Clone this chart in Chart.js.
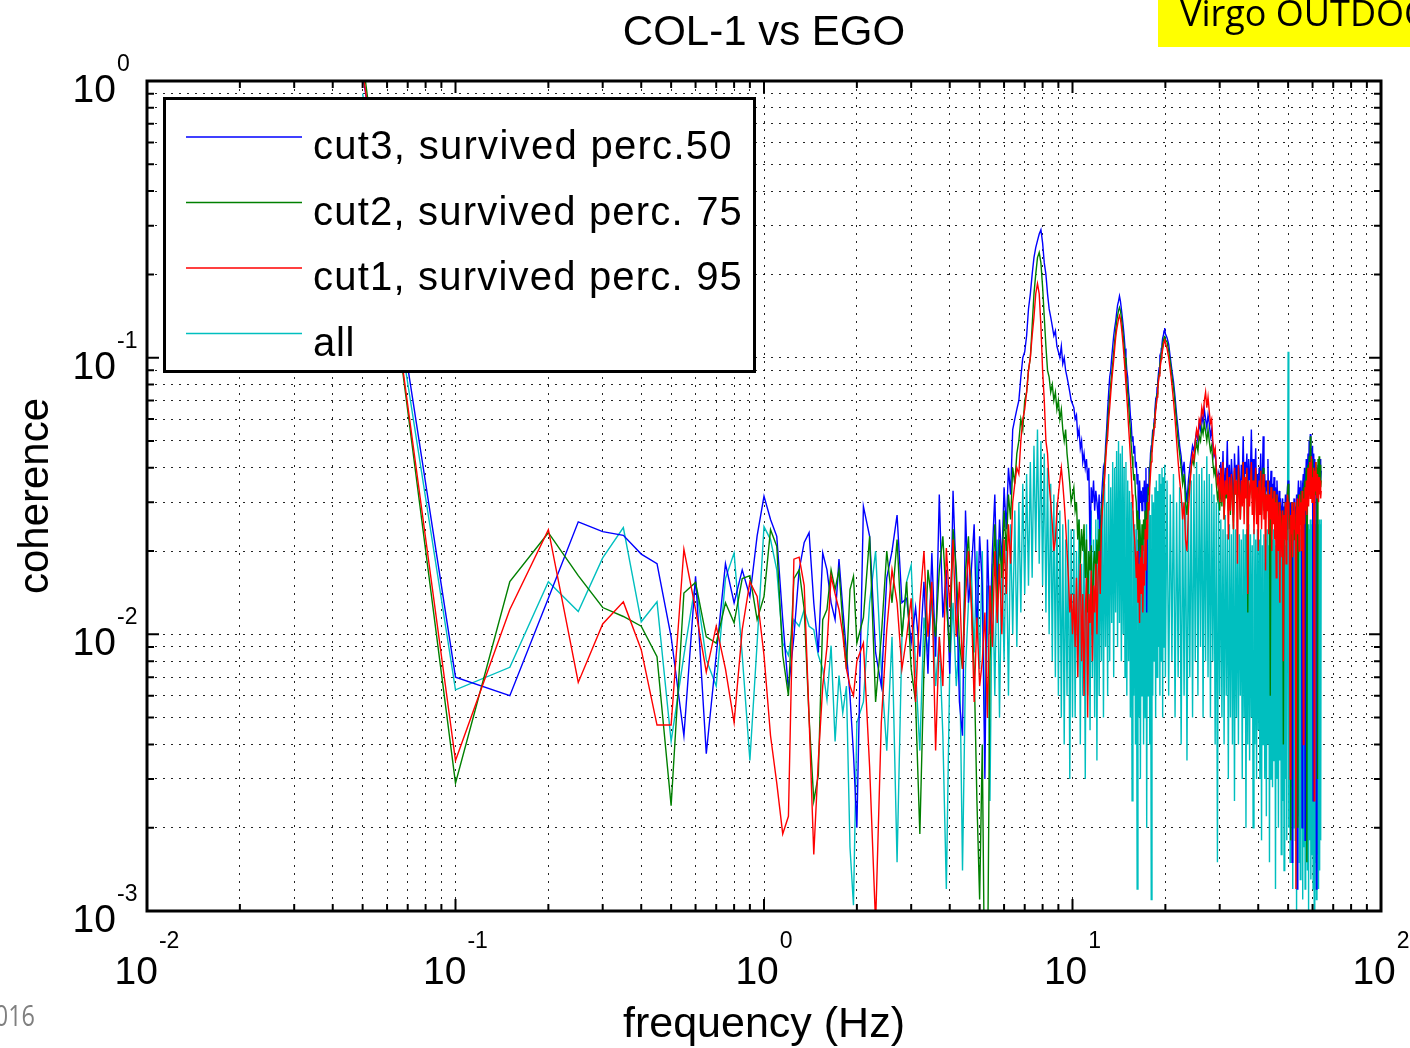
<!DOCTYPE html>
<html>
<head>
<meta charset="utf-8">
<script src="https://cdn.jsdelivr.net/npm/chart.js@4"></script>
<style>
  html, body { margin: 0; padding: 0; background: #fff; }
  #wrap { position: relative; width: 1410px; height: 1048px; overflow: hidden; }
</style>
</head>
<body>
<div id="wrap"><canvas id="coherenceChart" width="1410" height="1048"></canvas></div>
<script>
// Frequency grid (Hz)
const freqHz = [
  // 0.05 .. 2.0
  0.05, 0.1, 0.15, 0.2, 0.25, 0.3, 0.35, 0.4, 0.45, 0.5,
  0.55, 0.6, 0.65, 0.7, 0.75, 0.8, 0.85, 0.9, 0.95, 1.0,
  1.05, 1.1, 1.15, 1.2, 1.25, 1.3, 1.35, 1.4, 1.45, 1.5,
  1.55, 1.6, 1.65, 1.7, 1.75, 1.8, 1.85, 1.9, 1.95, 2.0,
  // 2.1 .. 10
  2.1, 2.2, 2.3, 2.4, 2.5, 2.6, 2.7, 2.8, 2.9, 3.0,
  3.1, 3.2, 3.3, 3.4, 3.5, 3.6, 3.7, 3.8, 3.9, 4.0,
  4.1, 4.2, 4.3, 4.4, 4.5, 4.6, 4.7, 4.8, 4.9, 5.0,
  5.1, 5.2, 5.3, 5.4, 5.5, 5.6, 5.7, 5.8, 5.9, 6.0,
  6.1, 6.2, 6.3, 6.4, 6.5, 6.6, 6.7, 6.8, 6.9, 7.0,
  7.1, 7.2, 7.3, 7.4, 7.5, 7.6, 7.7, 7.8, 7.9, 8.0,
  8.1, 8.2, 8.3, 8.4, 8.5, 8.6, 8.7, 8.8, 8.9, 9.0,
  9.1, 9.2, 9.3, 9.4, 9.5, 9.6, 9.7, 9.8, 9.9, 10.0,
  // 10.1 .. 20
  10.1, 10.2, 10.3, 10.4, 10.5, 10.6, 10.7, 10.8, 10.9, 11.0,
  11.1, 11.2, 11.3, 11.4, 11.5, 11.6, 11.7, 11.8, 11.9, 12.0,
  12.1, 12.2, 12.3, 12.4, 12.5, 12.6, 12.7, 12.8, 12.9, 13.0,
  13.1, 13.2, 13.3, 13.4, 13.5, 13.6, 13.7, 13.8, 13.9, 14.0,
  14.1, 14.2, 14.3, 14.4, 14.5, 14.6, 14.7, 14.8, 14.9, 15.0,
  15.1, 15.2, 15.3, 15.4, 15.5, 15.6, 15.7, 15.8, 15.9, 16.0,
  16.1, 16.2, 16.3, 16.4, 16.5, 16.6, 16.7, 16.8, 16.9, 17.0,
  17.1, 17.2, 17.3, 17.4, 17.5, 17.6, 17.7, 17.8, 17.9, 18.0,
  18.1, 18.2, 18.3, 18.4, 18.5, 18.6, 18.7, 18.8, 18.9, 19.0,
  19.1, 19.2, 19.3, 19.4, 19.5, 19.6, 19.7, 19.8, 19.9, 20.0,
  // 20.25 .. 64
  20.25, 20.5, 20.75, 21, 21.25, 21.5, 21.75, 22, 22.25, 22.5,
  22.75, 23, 23.25, 23.5, 23.75, 24, 24.25, 24.5, 24.75, 25,
  25.25, 25.5, 25.75, 26, 26.25, 26.5, 26.75, 27, 27.25, 27.5,
  27.75, 28, 28.25, 28.5, 28.75, 29, 29.25, 29.5, 29.75, 30,
  30.25, 30.5, 30.75, 31, 31.25, 31.5, 31.75, 32, 32.25, 32.5,
  32.75, 33, 33.25, 33.5, 33.75, 34, 34.25, 34.5, 34.75, 35,
  35.25, 35.5, 35.75, 36, 36.25, 36.5, 36.75, 37, 37.25, 37.5,
  37.75, 38, 38.25, 38.5, 38.75, 39, 39.25, 39.5, 39.75, 40,
  40.25, 40.5, 40.75, 41, 41.25, 41.5, 41.75, 42, 42.25, 42.5,
  42.75, 43, 43.25, 43.5, 43.75, 44, 44.25, 44.5, 44.75, 45,
  45.25, 45.5, 45.75, 46, 46.25, 46.5, 46.75, 47, 47.25, 47.5,
  47.75, 48, 48.25, 48.5, 48.75, 49, 49.25, 49.5, 49.75, 50,
  50.25, 50.5, 50.75, 51, 51.25, 51.5, 51.75, 52, 52.25, 52.5,
  52.75, 53, 53.25, 53.5, 53.75, 54, 54.25, 54.5, 54.75, 55,
  55.25, 55.5, 55.75, 56, 56.25, 56.5, 56.75, 57, 57.25, 57.5,
  57.75, 58, 58.25, 58.5, 58.75, 59, 59.25, 59.5, 59.75, 60,
  60.25, 60.5, 60.75, 61, 61.25, 61.5, 61.75, 62, 62.25, 62.5,
  62.75, 63, 63.25, 63.5, 63.75, 64
];

// cut3, survived perc.50
const cut3Values = [
  1.06, 0.0070, 0.0060, 0.0135, 0.0255, 0.0235, 0.0228, 0.0195, 0.018, 0.0098,
  0.0043, 0.0162, 0.0037, 0.0084, 0.018, 0.013, 0.0171, 0.0137, 0.0227, 0.0316,
  0.026, 0.0226, 0.0113, 0.0063, 0.0098, 0.0171, 0.0215, 0.0233, 0.013, 0.0086,
  0.0197, 0.0171, 0.013, 0.0113, 0.0187, 0.0125, 0.0086, 0.006, 0.0037, 0.002,
  0.029, 0.0226, 0.0086, 0.0065, 0.016, 0.02, 0.027, 0.013, 0.0135, 0.0093,
  0.0125, 0.0083, 0.0155, 0.0072, 0.0197, 0.0083, 0.032, 0.0115, 0.0171, 0.0072,
  0.033, 0.0155, 0.0057, 0.0043, 0.028, 0.013, 0.0171, 0.025, 0.0098, 0.0226,
  0.015, 0.003, 0.022, 0.01, 0.02, 0.032, 0.014, 0.026, 0.018, 0.034,
  0.024, 0.04, 0.032, 0.055, 0.06, 0.065, 0.07, 0.085, 0.1, 0.105,
  0.12, 0.15, 0.17, 0.2, 0.23, 0.25, 0.265, 0.28, 0.29, 0.26,
  0.22, 0.2, 0.17, 0.15, 0.14, 0.13, 0.12, 0.125, 0.11, 0.105,
  0.1, 0.11, 0.095, 0.1, 0.09, 0.085, 0.08, 0.075, 0.07, 0.068,
  0.066, 0.06, 0.062, 0.052, 0.055, 0.047, 0.05, 0.042, 0.045, 0.04,
  0.043, 0.036, 0.04, 0.02, 0.034, 0.03, 0.036, 0.028, 0.033, 0.03,
  0.026, 0.032, 0.018, 0.03, 0.035, 0.04, 0.038, 0.048, 0.055, 0.065,
  0.075, 0.085, 0.09, 0.1, 0.11, 0.12, 0.128, 0.135, 0.145, 0.155,
  0.16, 0.167, 0.16, 0.15, 0.14, 0.13, 0.12, 0.108, 0.1, 0.09,
  0.085, 0.075, 0.07, 0.062, 0.058, 0.05, 0.052, 0.045, 0.048, 0.04,
  0.042, 0.035, 0.038, 0.015, 0.036, 0.03, 0.033, 0.028, 0.034, 0.03,
  0.036, 0.026, 0.04, 0.012, 0.035, 0.032, 0.04, 0.038, 0.045, 0.048,
  0.05, 0.055, 0.052, 0.06, 0.065, 0.07, 0.068, 0.078, 0.082, 0.088,
  0.092, 0.1, 0.098, 0.108, 0.112, 0.118, 0.12, 0.125, 0.128, 0.122,
  0.118, 0.112, 0.1, 0.09, 0.082, 0.072, 0.062, 0.055, 0.048, 0.044,
  0.038, 0.042, 0.034, 0.03, 0.036, 0.04, 0.044, 0.048, 0.046, 0.05,
  0.054, 0.05, 0.058, 0.055, 0.062, 0.058, 0.065, 0.06, 0.056, 0.062,
  0.058, 0.052, 0.055, 0.048, 0.044, 0.046, 0.04, 0.036, 0.038, 0.032,
  0.042, 0.033, 0.046, 0.03, 0.04, 0.035, 0.05, 0.032, 0.041, 0.031,
  0.043, 0.036, 0.027, 0.045, 0.036, 0.041, 0.033, 0.048, 0.037, 0.031,
  0.041, 0.036, 0.052, 0.033, 0.042, 0.038, 0.045, 0.03, 0.043, 0.036,
  0.039, 0.055, 0.035, 0.043, 0.032, 0.037, 0.047, 0.031, 0.038, 0.029,
  0.04, 0.033, 0.045, 0.031, 0.036, 0.052, 0.032, 0.038, 0.03, 0.036,
  0.033, 0.043, 0.029, 0.036, 0.032, 0.039, 0.026, 0.035, 0.031, 0.037,
  0.029, 0.034, 0.025, 0.036, 0.03, 0.026, 0.033, 0.024, 0.031, 0.028,
  0.025, 0.031, 0.023, 0.029, 0.027, 0.032, 0.024, 0.03, 0.034, 0.036,
  0.032, 0.027, 0.03, 0.024, 0.029, 0.0015, 0.028, 0.025, 0.031, 0.023,
  0.029, 0.025, 0.032, 0.0012, 0.031, 0.036, 0.029, 0.034, 0.027, 0.036,
  0.031, 0.002, 0.035, 0.038, 0.032, 0.04, 0.0018, 0.036, 0.043, 0.034,
  0.039, 0.045, 0.036, 0.05, 0.043, 0.053, 0.039, 0.047, 0.043, 0.048,
  0.0025, 0.045, 0.038, 0.043, 0.036, 0.04, 0.0012, 0.038, 0.036, 0.041,
  0.033, 0.039, 0.037, 0.043, 0.036, 0.039
];

// cut2, survived perc. 75
const cut2Values = [
  1.2, 0.0029, 0.0155, 0.0233, 0.0163, 0.0125, 0.0116, 0.0107, 0.0083, 0.0024,
  0.0141, 0.0154, 0.0098, 0.0093, 0.013, 0.011, 0.0159, 0.0163, 0.0113, 0.0137,
  0.0239, 0.0208, 0.0084, 0.006, 0.0159, 0.0171, 0.0123, 0.005, 0.0025, 0.0031,
  0.0113, 0.0123, 0.0171, 0.0145, 0.0171, 0.011, 0.0075, 0.0145, 0.0162, 0.0093,
  0.0115, 0.0226, 0.0057, 0.0098, 0.02, 0.013, 0.022, 0.0098, 0.0155, 0.0075,
  0.0057, 0.0019, 0.0075, 0.0171, 0.013, 0.0098, 0.0171, 0.0226, 0.013, 0.0086,
  0.024, 0.0171, 0.0093, 0.0075, 0.0171, 0.0226, 0.013, 0.0075, 0.0025, 0.0011,
  0.004, 0.0004, 0.0005, 0.008, 0.015, 0.025, 0.012, 0.022, 0.016, 0.028,
  0.02, 0.032, 0.026, 0.04, 0.035, 0.045, 0.05, 0.06, 0.055, 0.07,
  0.075, 0.09, 0.1, 0.13, 0.17, 0.2, 0.23, 0.24, 0.22, 0.18,
  0.14, 0.11, 0.09, 0.085, 0.075, 0.08, 0.07, 0.075, 0.065, 0.07,
  0.06, 0.065, 0.055, 0.05, 0.055, 0.045, 0.04, 0.035, 0.03, 0.032,
  0.034, 0.028, 0.03, 0.022, 0.026, 0.018, 0.024, 0.02, 0.025, 0.016,
  0.022, 0.012, 0.02, 0.017, 0.021, 0.01, 0.018, 0.02, 0.015, 0.022,
  0.018, 0.024, 0.02, 0.028, 0.03, 0.034, 0.04, 0.045, 0.05, 0.058,
  0.065, 0.072, 0.08, 0.088, 0.095, 0.105, 0.115, 0.125, 0.135, 0.142,
  0.148, 0.152, 0.148, 0.14, 0.13, 0.12, 0.11, 0.1, 0.09, 0.082,
  0.075, 0.068, 0.06, 0.055, 0.048, 0.044, 0.04, 0.036, 0.038, 0.032,
  0.03, 0.024, 0.028, 0.02, 0.026, 0.022, 0.018, 0.025, 0.02, 0.026,
  0.022, 0.028, 0.018, 0.03, 0.026, 0.034, 0.032, 0.038, 0.042, 0.046,
  0.048, 0.052, 0.055, 0.058, 0.062, 0.066, 0.07, 0.074, 0.078, 0.084,
  0.088, 0.094, 0.098, 0.104, 0.108, 0.112, 0.115, 0.118, 0.12, 0.116,
  0.114, 0.106, 0.096, 0.086, 0.078, 0.068, 0.058, 0.05, 0.045, 0.04,
  0.035, 0.038, 0.03, 0.027, 0.033, 0.036, 0.04, 0.043, 0.041, 0.046,
  0.049, 0.046, 0.052, 0.05, 0.056, 0.053, 0.058, 0.054, 0.05, 0.055,
  0.05, 0.046, 0.048, 0.042, 0.038, 0.04, 0.035, 0.031, 0.033, 0.028,
  0.036, 0.029, 0.04, 0.026, 0.034, 0.031, 0.038, 0.028, 0.035, 0.027,
  0.037, 0.031, 0.024, 0.039, 0.032, 0.035, 0.03, 0.04, 0.033, 0.026,
  0.035, 0.032, 0.042, 0.03, 0.036, 0.033, 0.039, 0.012, 0.036, 0.032,
  0.034, 0.04, 0.031, 0.036, 0.028, 0.033, 0.039, 0.027, 0.034, 0.026,
  0.035, 0.03, 0.039, 0.027, 0.032, 0.04, 0.028, 0.034, 0.026, 0.032,
  0.03, 0.036, 0.026, 0.032, 0.006, 0.034, 0.024, 0.031, 0.027, 0.033,
  0.026, 0.031, 0.023, 0.032, 0.027, 0.024, 0.03, 0.021, 0.028, 0.025,
  0.024, 0.028, 0.004, 0.027, 0.025, 0.03, 0.022, 0.028, 0.032, 0.035,
  0.028, 0.024, 0.027, 0.0018, 0.026, 0.03, 0.025, 0.028, 0.022, 0.027,
  0.026, 0.024, 0.03, 0.027, 0.002, 0.032, 0.026, 0.031, 0.025, 0.033,
  0.028, 0.032, 0.026, 0.034, 0.03, 0.036, 0.031, 0.035, 0.04, 0.0015,
  0.035, 0.041, 0.033, 0.044, 0.037, 0.052, 0.035, 0.042, 0.038, 0.043,
  0.033, 0.04, 0.035, 0.038, 0.032, 0.042, 0.035, 0.04, 0.003, 0.043,
  0.035, 0.044, 0.037, 0.041, 0.034, 0.036
];

// cut1, survived perc. 95
const cut1Values = [
  1.1, 0.0035, 0.0123, 0.0239, 0.0067, 0.0109, 0.0131, 0.0088, 0.0047, 0.0047,
  0.0203, 0.0123, 0.0073, 0.0107, 0.0075, 0.0048, 0.0104, 0.0155, 0.0137, 0.0084,
  0.0043, 0.0029, 0.0019, 0.0022, 0.0187, 0.019, 0.015, 0.005, 0.0016, 0.0035,
  0.0065, 0.009, 0.0162, 0.014, 0.0123, 0.01, 0.0075, 0.0065, 0.006, 0.008,
  0.0093, 0.0033, 0.0009, 0.0048, 0.0104, 0.0171, 0.013, 0.0075, 0.0098, 0.0135,
  0.0057, 0.013, 0.02, 0.0098, 0.0155, 0.0038, 0.0098, 0.0065, 0.0205, 0.0125,
  0.022, 0.0098, 0.0155, 0.0075, 0.0135, 0.02, 0.013, 0.0057, 0.0115, 0.0065,
  0.008, 0.012, 0.005, 0.015, 0.009, 0.02, 0.011, 0.018, 0.01, 0.022,
  0.014, 0.025, 0.018, 0.03, 0.035, 0.04, 0.038, 0.05, 0.06, 0.065,
  0.075, 0.09, 0.1, 0.12, 0.14, 0.17, 0.185, 0.17, 0.13, 0.09,
  0.07, 0.05, 0.045, 0.035, 0.03, 0.025, 0.02, 0.022, 0.028, 0.032,
  0.036, 0.04, 0.035, 0.03, 0.025, 0.02, 0.016, 0.012, 0.014, 0.01,
  0.014, 0.009, 0.016, 0.007, 0.013, 0.018, 0.008, 0.014, 0.006, 0.012,
  0.016, 0.005, 0.014, 0.011, 0.017, 0.008, 0.015, 0.012, 0.018, 0.01,
  0.016, 0.02, 0.014, 0.024, 0.028, 0.032, 0.036, 0.042, 0.048, 0.052,
  0.06, 0.066, 0.074, 0.082, 0.09, 0.098, 0.108, 0.118, 0.126, 0.132,
  0.138, 0.142, 0.138, 0.13, 0.12, 0.11, 0.1, 0.09, 0.08, 0.072,
  0.064, 0.056, 0.05, 0.044, 0.038, 0.032, 0.028, 0.024, 0.022, 0.019,
  0.016, 0.02, 0.013, 0.018, 0.011, 0.019, 0.014, 0.021, 0.012, 0.018,
  0.015, 0.024, 0.017, 0.026, 0.022, 0.03, 0.028, 0.034, 0.038, 0.042,
  0.045, 0.049, 0.052, 0.056, 0.06, 0.064, 0.068, 0.072, 0.077, 0.082,
  0.086, 0.09, 0.095, 0.099, 0.103, 0.107, 0.11, 0.114, 0.117, 0.113,
  0.108, 0.1, 0.09, 0.08, 0.07, 0.06, 0.05, 0.042, 0.036, 0.032,
  0.026, 0.03, 0.022, 0.02, 0.028, 0.034, 0.04, 0.045, 0.043, 0.05,
  0.055, 0.052, 0.06, 0.058, 0.066, 0.062, 0.07, 0.075, 0.066, 0.072,
  0.064, 0.058, 0.06, 0.05, 0.045, 0.047, 0.04, 0.035, 0.037, 0.03,
  0.04, 0.03, 0.042, 0.026, 0.036, 0.032, 0.04, 0.022, 0.037, 0.028,
  0.038, 0.03, 0.024, 0.04, 0.032, 0.036, 0.018, 0.041, 0.033, 0.026,
  0.036, 0.029, 0.042, 0.025, 0.037, 0.031, 0.04, 0.014, 0.036, 0.029,
  0.034, 0.042, 0.027, 0.036, 0.023, 0.033, 0.04, 0.025, 0.034, 0.02,
  0.036, 0.027, 0.039, 0.024, 0.032, 0.038, 0.026, 0.034, 0.017, 0.032,
  0.028, 0.036, 0.023, 0.032, 0.026, 0.034, 0.02, 0.031, 0.025, 0.033,
  0.022, 0.03, 0.016, 0.032, 0.025, 0.02, 0.03, 0.013, 0.028, 0.023,
  0.019, 0.028, 0.008, 0.027, 0.022, 0.03, 0.018, 0.028, 0.032, 0.03,
  0.026, 0.021, 0.003, 0.027, 0.023, 0.03, 0.019, 0.028, 0.024, 0.03,
  0.022, 0.0012, 0.027, 0.031, 0.023, 0.029, 0.02, 0.032, 0.025, 0.03,
  0.02, 0.033, 0.026, 0.004, 0.031, 0.025, 0.034, 0.028, 0.036, 0.027,
  0.033, 0.04, 0.029, 0.036, 0.042, 0.031, 0.038, 0.044, 0.03, 0.037,
  0.034, 0.04, 0.0025, 0.039, 0.033, 0.042, 0.035, 0.031, 0.038, 0.034,
  0.03, 0.037, 0.032, 0.036, 0.031, 0.033
];

// all
const allValues = [
  0.9, 0.0063, 0.0076, 0.0155, 0.0121, 0.0189, 0.0243, 0.0111, 0.0131, 0.0041,
  0.0084, 0.0154, 0.0081, 0.0065, 0.0159, 0.0197, 0.0084, 0.0035, 0.0093, 0.0245,
  0.022, 0.0171, 0.0093, 0.0084, 0.0113, 0.0107, 0.0123, 0.0107, 0.0104, 0.0084,
  0.0075, 0.0058, 0.0091, 0.0041, 0.0071, 0.0052, 0.0065, 0.0017, 0.00105, 0.0048,
  0.0057, 0.013, 0.02, 0.0075, 0.0038, 0.0098, 0.0015, 0.0098, 0.0155, 0.0178,
  0.0075, 0.0038, 0.0115, 0.0086, 0.0135, 0.0065, 0.0098, 0.0043, 0.0012, 0.0075,
  0.013, 0.0065, 0.0098, 0.0014, 0.0075, 0.013, 0.0171, 0.0086, 0.02, 0.0075,
  0.02, 0.004, 0.015, 0.0025, 0.018, 0.006, 0.022, 0.005, 0.02, 0.008,
  0.022, 0.006, 0.025, 0.01, 0.028, 0.009, 0.03, 0.012, 0.035, 0.014,
  0.038, 0.015, 0.042, 0.016, 0.048, 0.02, 0.055, 0.018, 0.05, 0.015,
  0.045, 0.012, 0.04, 0.01, 0.035, 0.008, 0.032, 0.007, 0.03, 0.006,
  0.028, 0.005, 0.025, 0.004, 0.022, 0.006, 0.026, 0.003, 0.024, 0.005,
  0.024, 0.005, 0.02, 0.007, 0.026, 0.004, 0.018, 0.006, 0.022, 0.003,
  0.025, 0.006, 0.02, 0.0045, 0.028, 0.007, 0.022, 0.005, 0.026, 0.0035,
  0.03, 0.006, 0.027, 0.008, 0.032, 0.005, 0.035, 0.009, 0.03, 0.006,
  0.038, 0.008, 0.034, 0.011, 0.042, 0.007, 0.04, 0.012, 0.046, 0.009,
  0.05, 0.011, 0.045, 0.008, 0.048, 0.01, 0.04, 0.007, 0.042, 0.006,
  0.036, 0.008, 0.033, 0.005, 0.03, 0.0025, 0.028, 0.006, 0.025, 0.004,
  0.024, 0.0012, 0.022, 0.005, 0.026, 0.003, 0.02, 0.006, 0.024, 0.004,
  0.026, 0.005, 0.028, 0.002, 0.025, 0.006, 0.03, 0.004, 0.027, 0.0011,
  0.032, 0.006, 0.03, 0.008, 0.034, 0.005, 0.036, 0.007, 0.033, 0.009,
  0.038, 0.006, 0.035, 0.008, 0.04, 0.005, 0.037, 0.009, 0.041, 0.007,
  0.036, 0.006, 0.032, 0.008, 0.038, 0.005, 0.03, 0.007, 0.034, 0.004,
  0.03, 0.006, 0.033, 0.0035, 0.028, 0.007, 0.036, 0.005, 0.038, 0.008,
  0.042, 0.006, 0.038, 0.009, 0.04, 0.005, 0.036, 0.008, 0.044, 0.007,
  0.038, 0.005, 0.035, 0.008, 0.032, 0.004, 0.03, 0.0015, 0.033, 0.006,
  0.026, 0.005, 0.024, 0.004, 0.027, 0.006, 0.023, 0.003, 0.025, 0.005,
  0.023, 0.004, 0.025, 0.0025, 0.024, 0.005, 0.026, 0.004, 0.023, 0.006,
  0.022, 0.003, 0.024, 0.005, 0.023, 0.002, 0.024, 0.004, 0.025, 0.0035,
  0.023, 0.005, 0.021, 0.002, 0.024, 0.004, 0.022, 0.003, 0.024, 0.0045,
  0.022, 0.003, 0.024, 0.0018, 0.021, 0.004, 0.023, 0.003, 0.022, 0.0022,
  0.024, 0.004, 0.021, 0.0015, 0.023, 0.003, 0.022, 0.0028, 0.024, 0.0035,
  0.022, 0.0012, 0.021, 0.003, 0.023, 0.002, 0.021, 0.0035, 0.022, 0.0016,
  0.021, 0.0025, 0.023, 0.0014, 0.022, 0.003, 0.021, 0.0018, 0.023, 0.105,
  0.002, 0.022, 0.0015, 0.021, 0.0028, 0.023, 0.0012, 0.022, 0.002, 0.024,
  0.0018, 0.022, 0.001, 0.023, 0.0022, 0.024, 0.0015, 0.022, 0.0013, 0.024,
  0.002, 0.023, 0.0011, 0.024, 0.0017, 0.024, 0.0012, 0.023, 0.002, 0.025,
  0.0014, 0.025, 0.001, 0.024, 0.0018, 0.026, 0.0013, 0.025, 0.0016, 0.026,
  0.0012, 0.025, 0.0009, 0.026, 0.0015, 0.025, 0.0011, 0.026, 0.0016, 0.025,
  0.0012, 0.026, 0.0014, 0.025, 0.0018, 0.026
];

// Axis decades and their exponent labels
const xDecades = [0.01, 0.1, 1, 10, 100];
const xExponents = ['-2', '-1', '0', '1', '2'];
const yDecades = [0.001, 0.01, 0.1, 1];
const yExponents = ['-3', '-2', '-1', '0'];
const minorSteps = [1, 2, 3, 4, 5, 6, 7, 8, 9];

const legendLabels = ['cut3, survived perc.50', 'cut2, survived perc. 75', 'cut1, survived perc. 95', 'all'];
const seriesColors = ['#0000ff', '#008000', '#ff0000', '#00bfbf'];
const seriesValues = [cut3Values, cut2Values, cut1Values, allValues];
// stacking: 'all' at the bottom, cut1 on top
const seriesOrder = [3, 2, 1, 4];

const FONT = '"Liberation Sans", Arial, Helvetica, sans-serif';

// Build 1..9 ticks for every decade
function logTicks(decades) {
    const out = [];
    decades.forEach(function(d, i) {
        if (i === decades.length - 1) {
            out.push(d);
        } else {
            minorSteps.forEach(function(m) { out.push(+(d * m).toPrecision(6)); });
        }
    });
    return out;
}

function toPoints(values) {
    if (values.length !== freqHz.length) {
        throw new Error('length mismatch: ' + values.length + ' vs ' + freqHz.length);
    }
    return freqHz.map(function(f, i) { return { x: f, y: values[i] }; });
}

// Draw text stretched to a given width with letter spacing
function fitText(ctx, text, x, y, width) {
    ctx.letterSpacing = '0px';
    const w = ctx.measureText(text).width;
    ctx.letterSpacing = ((width - w) / text.length).toFixed(2) + 'px';
    ctx.fillText(text, x, y);
    ctx.letterSpacing = '0px';
}

function drawPower(ctx, exp, left, baseMain, baseExp) {
    ctx.textAlign = 'left';
    ctx.font = '39px ' + FONT;
    ctx.fillText('10', left, baseMain);
    const w = ctx.measureText('10').width;
    ctx.font = '23px ' + FONT;
    ctx.fillText(exp, left + w + 1, baseExp);
}

function powerWidth(ctx, exp) {
    ctx.font = '39px ' + FONT;
    const w1 = ctx.measureText('10').width;
    ctx.font = '23px ' + FONT;
    return w1 + 1 + ctx.measureText(exp).width;
}

// Frame, inside ticks, legend and all text
const matlabFrame = {
    id: 'matlabFrame',
    afterDraw(chart) {
        const ctx = chart.ctx;
        const a = chart.chartArea;
        const xs = chart.scales.x;
        const ys = chart.scales.y;
        ctx.save();

        // legend box
        ctx.fillStyle = '#fff';
        ctx.fillRect(163, 97, 593, 276);
        ctx.lineWidth = 3;
        ctx.strokeStyle = '#000';
        ctx.strokeRect(164.5, 98.5, 590, 273);
        ctx.font = '40px ' + FONT;
        ctx.textBaseline = 'alphabetic';
        const widths = [420, 430, 430, 42];
        legendLabels.forEach(function(label, i) {
            const ly = 137 + i * 65.5;
            ctx.strokeStyle = seriesColors[i];
            ctx.lineWidth = 1.4;
            ctx.beginPath();
            ctx.moveTo(186, ly);
            ctx.lineTo(302, ly);
            ctx.stroke();
            ctx.fillStyle = '#000';
            fitText(ctx, label, 313, ly + 22, widths[i]);
        });

        // axes box
        ctx.strokeStyle = '#000';
        ctx.lineWidth = 3;
        ctx.strokeRect(a.left, a.top, a.right - a.left, a.bottom - a.top);

        // inside ticks
        ctx.lineWidth = 2;
        ctx.beginPath();
        xs.ticks.forEach(function(t) {
            const px = xs.getPixelForValue(t.value);
            if (px <= a.left + 1 || px >= a.right - 1) return;
            const len = xDecades.indexOf(t.value) >= 0 ? 12 : 7;
            ctx.moveTo(px, a.bottom); ctx.lineTo(px, a.bottom - len);
            ctx.moveTo(px, a.top); ctx.lineTo(px, a.top + len);
        });
        ys.ticks.forEach(function(t) {
            const py = ys.getPixelForValue(t.value);
            if (py <= a.top + 1 || py >= a.bottom - 1) return;
            const len = yDecades.indexOf(t.value) >= 0 ? 12 : 7;
            ctx.moveTo(a.left, py); ctx.lineTo(a.left + len, py);
            ctx.moveTo(a.right, py); ctx.lineTo(a.right - len, py);
        });
        ctx.stroke();

        // tick labels
        ctx.fillStyle = '#000';
        xDecades.forEach(function(v, i) {
            const px = xs.getPixelForValue(v);
            const w = powerWidth(ctx, xExponents[i]);
            drawPower(ctx, xExponents[i], px - w / 2, 984, 948);
        });
        yDecades.forEach(function(v, i) {
            const py = ys.getPixelForValue(v);
            ctx.font = '39px ' + FONT;
            const w = ctx.measureText('10').width;
            drawPower(ctx, yExponents[i], 116 - w, py + 21, py - 10);
        });

        // title and axis titles
        ctx.textAlign = 'center';
        ctx.font = '42px ' + FONT;
        ctx.fillText('COL-1 vs EGO', (a.left + a.right) / 2, 45);
        ctx.font = '43px ' + FONT;
        ctx.fillText('frequency (Hz)', (a.left + a.right) / 2, 1037);
        ctx.save();
        ctx.translate(48, (a.top + a.bottom) / 2);
        ctx.rotate(-Math.PI / 2);
        ctx.font = '42px ' + FONT;
        ctx.fillText('coherence', 0, 0);
        ctx.restore();

        // slide decorations
        ctx.fillStyle = '#ffff00';
        ctx.fillRect(1158, 0, 252, 47);
        ctx.fillStyle = '#000';
        ctx.textAlign = 'left';
        ctx.font = '36px "Open Sans", sans-serif';
        ctx.fillText('Virgo OUTDOOR', 1180, 26);
        ctx.save();
        ctx.translate(35, 1026);
        ctx.scale(0.78, 1);
        ctx.textAlign = 'right';
        ctx.fillStyle = '#7f7f7f';
        ctx.font = '30px "Open Sans", sans-serif';
        ctx.fillText('2016', 0, 0);
        ctx.restore();

        ctx.restore();
    }
};

function initializeCoherenceChart() {
    const ctx = document.getElementById('coherenceChart');
    const datasets = seriesValues.map(function(values, i) {
        return {
            label: legendLabels[i],
            data: toPoints(values),
            borderColor: seriesColors[i],
            borderWidth: 1.4,
            pointRadius: 0,
            tension: 0,
            fill: false,
            order: seriesOrder[i]
        };
    });

    new Chart(ctx, {
        type: 'line',
        data: { datasets: datasets },
        options: {
            responsive: false,
            animation: false,
            devicePixelRatio: 1,
            events: [],
            layout: { padding: { left: 147, top: 81, right: 29, bottom: 137 } },
            plugins: {
                legend: { display: false },
                tooltip: { enabled: false }
            },
            scales: {
                x: {
                    type: 'logarithmic',
                    min: 0.01,
                    max: 100,
                    afterBuildTicks: function(scale) {
                        scale.ticks = logTicks(xDecades).map(function(v) { return { value: v }; });
                    },
                    ticks: { display: false },
                    grid: { color: 'rgba(0, 0, 0, 0.85)', lineWidth: 1, drawTicks: false },
                    border: { display: false, dash: [2, 6] }
                },
                y: {
                    type: 'logarithmic',
                    min: 0.001,
                    max: 1,
                    afterBuildTicks: function(scale) {
                        scale.ticks = logTicks(yDecades).map(function(v) { return { value: v }; });
                    },
                    ticks: { display: false },
                    grid: { color: 'rgba(0, 0, 0, 0.85)', lineWidth: 1, drawTicks: false },
                    border: { display: false, dash: [2, 6] }
                }
            }
        },
        plugins: [matlabFrame]
    });
}

initializeCoherenceChart();
</script>
</body>
</html>
